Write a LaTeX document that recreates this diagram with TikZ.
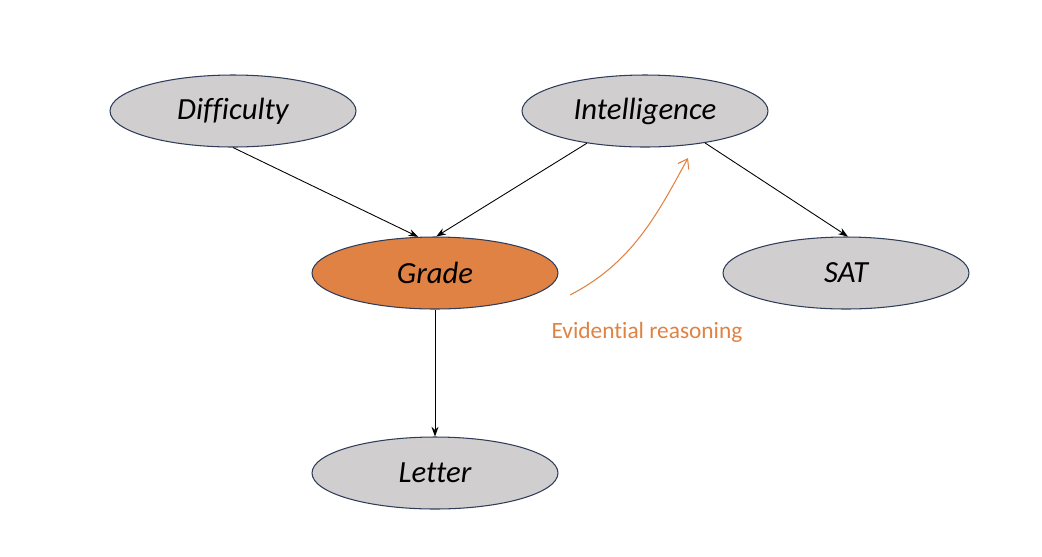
\documentclass[tikz,border=0pt]{standalone}
\usepackage{fontspec}
\setmainfont{Carlito}[Ligatures=CommonOff]
\usepackage{tikz}
\usetikzlibrary{arrows.meta, shapes.geometric}
\definecolor{nodegray}{HTML}{D0CECE}
\definecolor{nodeline}{HTML}{2F3D5A}
\definecolor{evorange}{HTML}{DF8243}

\begin{document}
\begin{tikzpicture}[x=0.02cm, y=-0.02cm,
        var/.style={ellipse, draw=nodeline, fill=nodegray, line width=0.6pt,
            minimum width=4.92cm, minimum height=1.44cm, inner sep=0pt,
            font=\fontsize{17.5}{20}\selectfont\itshape},
        edge/.style={-{Stealth[length=5.5pt, width=4pt]}, line width=0.5pt}]
        \useasboundingbox (0,0) rectangle (1042,556);

        \node[var] (diff) at (233,111) {Difficulty};
        \node[var] (intel) at (645,111) {Intelligence};
        \node[var, fill=evorange] (grade) at (435,273) {Grade};
        \node[var] (sat) at (846,273) {SAT};
        \node[var] (letter) at (435,473) {Letter};

        \draw[edge] (diff.south) -- (grade.115);
        \draw[edge] (intel.-151) -- (grade.88);
        \draw[edge] (intel.-28) -- (sat.87);
        \draw[edge] (grade) -- (letter);

        % evidence goes back up
        \coordinate (evstart) at (570,295);
        \coordinate (evend) at (688,158);
        \draw[evorange, line width=0.6pt, -{Straight Barb[length=5pt, width=7pt]}]
            (evstart) .. controls (632,263) and (657,215) .. (evend);
        \node[text=evorange, font=\fontsize{13.3}{15}\selectfont] (evlabel) at (647,332) {Evidential reasoning};
    \end{tikzpicture}
\end{document}
